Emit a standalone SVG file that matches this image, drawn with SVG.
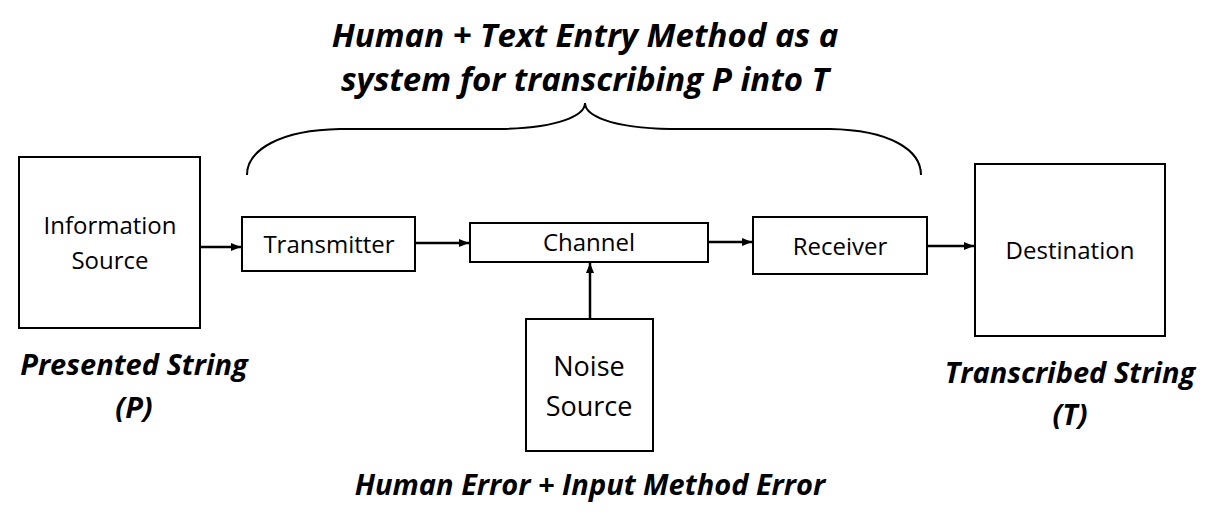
<svg xmlns="http://www.w3.org/2000/svg" width="1223" height="526" viewBox="0 0 1223 526">
<defs>
<marker id="ah" markerWidth="10" markerHeight="8" refX="10" refY="4" orient="auto" markerUnits="userSpaceOnUse">
<path d="M0,0 L10,4 L0,8 Z" fill="#000"/>
</marker>
<style>
.box{fill:#fff;stroke:#000;stroke-width:2}
.lbl{font-family:"Open Sans","Noto Sans","DejaVu Sans",sans-serif;font-size:24px;fill:#000;text-anchor:middle}
.big{font-size:27px}
.cap{font-family:"Open Sans","Noto Sans","DejaVu Sans",sans-serif;font-weight:bold;font-style:italic;fill:#000;text-anchor:middle;font-size:29px}
.ttl{font-size:33px}
.conn{stroke:#000;stroke-width:2.5;fill:none}
</style>
</defs>
<rect width="1223" height="526" fill="#fff"/>
<g id="title">
<text class="cap ttl" x="585" y="47">Human + Text Entry Method as a</text>
<text class="cap ttl" x="585" y="91">system for transcribing P into T</text>
</g>
<g id="brace">
<path d="M247,175 C247,150 280,130 340,129 L500,129 C560,128 585,115 585,103 C585,115 610,128 670,129 L830,129 C890,130 921,150 921,175" fill="none" stroke="#000" stroke-width="2"/>
</g>
<g id="info-source">
<rect class="box" x="19" y="157" width="181" height="171"/>
<text class="lbl" x="110" y="234">Information</text>
<text class="lbl" x="110" y="269">Source</text>
</g>
<g id="transmitter">
<rect class="box" x="242" y="217" width="173" height="54"/>
<text class="lbl" x="329" y="253">Transmitter</text>
</g>
<g id="channel">
<rect class="box" x="470" y="223" width="238" height="39"/>
<text class="lbl" x="589" y="251">Channel</text>
</g>
<g id="receiver">
<rect class="box" x="753" y="217" width="174" height="57"/>
<text class="lbl" x="840" y="255">Receiver</text>
</g>
<g id="destination">
<rect class="box" x="975" y="164" width="190" height="172"/>
<text class="lbl" x="1070" y="259">Destination</text>
</g>
<g id="noise-source">
<rect class="box" x="526" y="319" width="127" height="132"/>
<text class="lbl big" x="589" y="376">Noise</text>
<text class="lbl big" x="589" y="416">Source</text>
</g>
<g id="captions">
<text class="cap" x="134" y="375">Presented String</text>
<text class="cap" x="134" y="418">(P)</text>
<text class="cap" x="1070" y="383">Transcribed String</text>
<text class="cap" x="1070" y="425">(T)</text>
<text class="cap" x="590" y="495">Human Error + Input Method Error</text>
</g>
<g id="connectors">
<line class="conn" x1="201" y1="247" x2="241" y2="247" marker-end="url(#ah)"/>
<line class="conn" x1="416" y1="243" x2="469" y2="243" marker-end="url(#ah)"/>
<line class="conn" x1="709" y1="242" x2="752" y2="242" marker-end="url(#ah)"/>
<line class="conn" x1="928" y1="246" x2="974" y2="246" marker-end="url(#ah)"/>
<line class="conn" x1="590" y1="318" x2="590" y2="263" marker-end="url(#ah)"/>
</g>
</svg>
